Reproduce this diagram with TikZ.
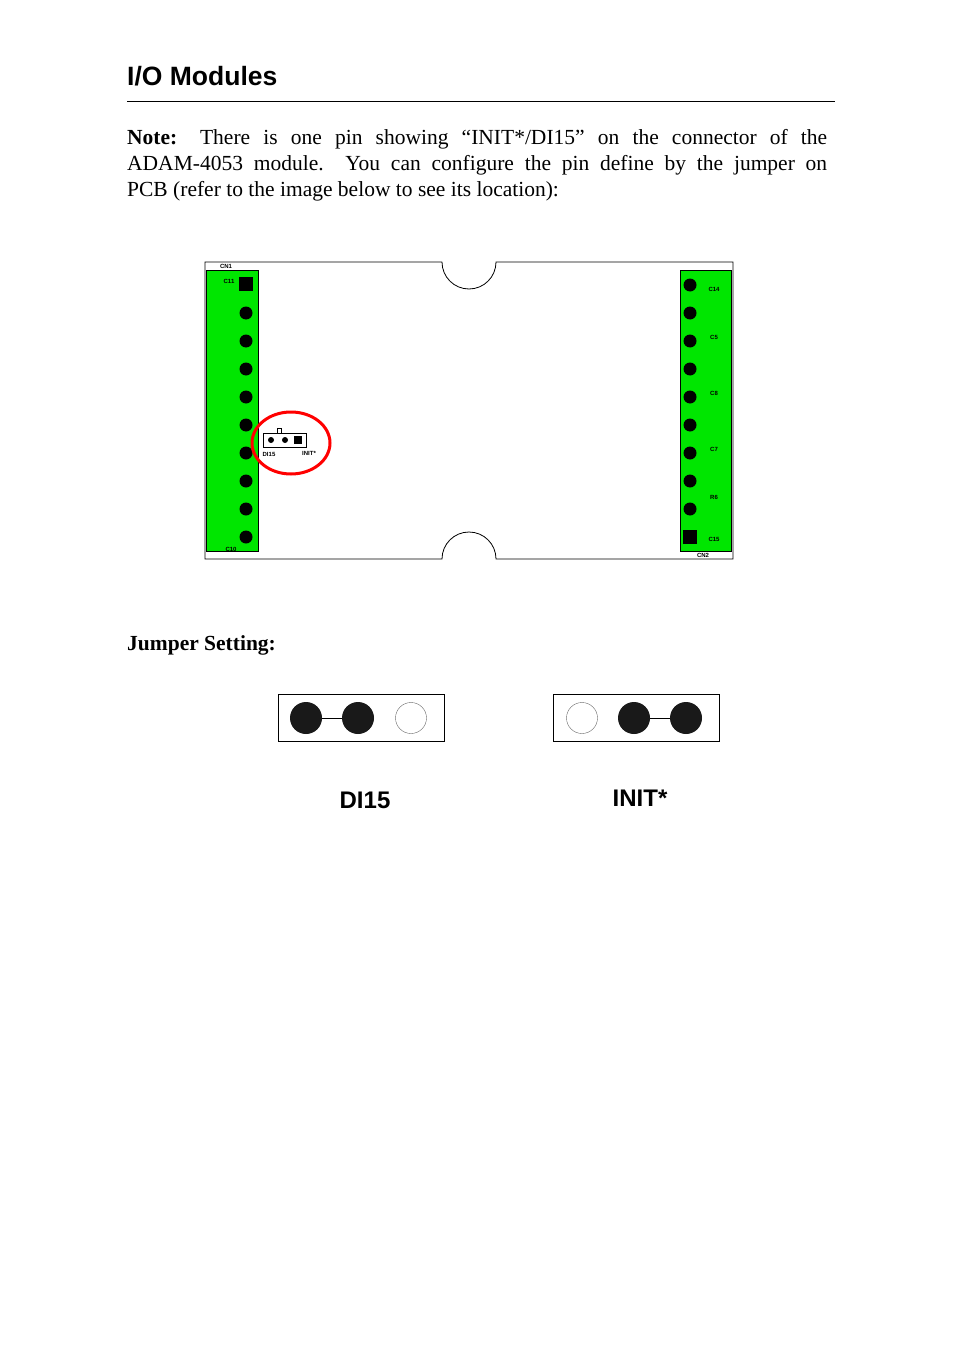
\documentclass[tikz,border=0pt]{standalone}
\usepackage{fontspec}
\setmainfont{Liberation Serif}
\setsansfont{Liberation Sans}
\usetikzlibrary{shapes.geometric}
\definecolor{pcbgreen}{RGB}{0,230,0}
\begin{document}
\begin{tikzpicture}[x=1pt,y=-1pt,
  pin/.style={circle,fill=black,inner sep=0pt,minimum size=13pt},
  sqpin/.style={rectangle,fill=black,inner sep=0pt,minimum size=14pt},
  tiny/.style={font=\sffamily\bfseries\fontsize{6}{6}\selectfont,inner sep=0pt},
  jbox/.style={draw,thin,minimum width=166pt,minimum height=47pt,inner sep=0pt},
  jon/.style={circle,fill=black!90,inner sep=0pt,minimum size=32pt},
  joff/.style={circle,draw=black!60,thin,inner sep=0pt,minimum size=31pt}]
\useasboundingbox (0,0) rectangle (954,1356);
\node[anchor=base west,font=\sffamily\bfseries\fontsize{26.5}{30}\selectfont,inner sep=0pt] (title) at (127,86) {I/O Modules};
\draw[thin] (127,101) -- (835,101);
\node[anchor=north west,text width=700pt,align=justify,inner sep=0pt,font=\fontsize{21.5}{26}\selectfont] (note) at (127,129)
{\textbf{Note:} There is one pin showing “INIT*/DI15” on the connector of the\linebreak ADAM-4053 module.\ \ You can configure the pin define by the jumper on\linebreak PCB (refer to the image below to see its location):};
% board
\draw[thick] (442,262) -- (205,262) -- (205,559) -- (442,559) arc[start angle=180,end angle=360,radius=27] -- (733,559) -- (733,262) -- (496,262) arc[start angle=0,end angle=180,radius=27];
\draw[fill=pcbgreen,thick] (206,270) rectangle (258,551);
\draw[fill=pcbgreen,thick] (680,270) rectangle (731,551);
\node[sqpin] (l1) at (246,284) {};
\foreach \y [count=\i from 2] in {313,341,369,397,425,453,481,509,537} \node[pin] (l\i) at (246,\y) {};
\foreach \y [count=\i] in {285,313,341,369,397,425,453,481,509} \node[pin] (r\i) at (690,\y) {};
\node[sqpin] (r10) at (690,537) {};
\node[tiny] (cn1) at (226,266) {CN1};
\node[tiny] (cn2) at (703,555) {CN2};
\node[tiny] (a1) at (229,281) {C11};
\node[tiny] (a2) at (231,549) {C10};
\foreach \y/\t in {289/C14,337/C5,393/C8,449/C7,497/R6,539/C15} \node[tiny] at (714,\y) {\t};
% jumper on pcb
\draw[thick] (263,433) rectangle (306,447);
\draw (277,433) -- (277,428) -- (281,428) -- (281,433);
\node[circle,fill=black,inner sep=0pt,minimum size=6pt] (p1) at (271,440) {};
\node[circle,fill=black,inner sep=0pt,minimum size=6pt] (p2) at (285,440) {};
\node[rectangle,fill=black,inner sep=0pt,minimum size=8pt] (p3) at (298,440) {};
\node[tiny] (di) at (269,454) {DI15};
\node[tiny] (it) at (309,453) {INIT*};
\node[draw=red,line width=3pt,ellipse,minimum width=78pt,minimum height=62pt] (ring) at (291,443) {};
% jumper setting
\node[anchor=base west,inner sep=0pt,font=\bfseries\fontsize{21.5}{26}\selectfont] (js) at (127,650) {Jumper Setting:};
\node[jbox] (b1) at (361,718) {};
\node[jon] (a1d) at (306,718) {};
\node[jon] (a2d) at (358,718) {};
\node[joff] (a3d) at (411,718) {};
\draw (a1d) -- (a2d);
\node[jbox] (b2) at (636,718) {};
\node[joff] (c1) at (582,718) {};
\node[jon] (c2) at (634,718) {};
\node[jon] (c3) at (686,718) {};
\draw (c2) -- (c3);
\node[font=\sffamily\bfseries\fontsize{24}{28}\selectfont,inner sep=0pt] (l1t) at (365,800) {DI15};
\node[font=\sffamily\bfseries\fontsize{24}{28}\selectfont,inner sep=0pt] (l2t) at (640,798) {INIT*};
\end{tikzpicture}
\end{document}
